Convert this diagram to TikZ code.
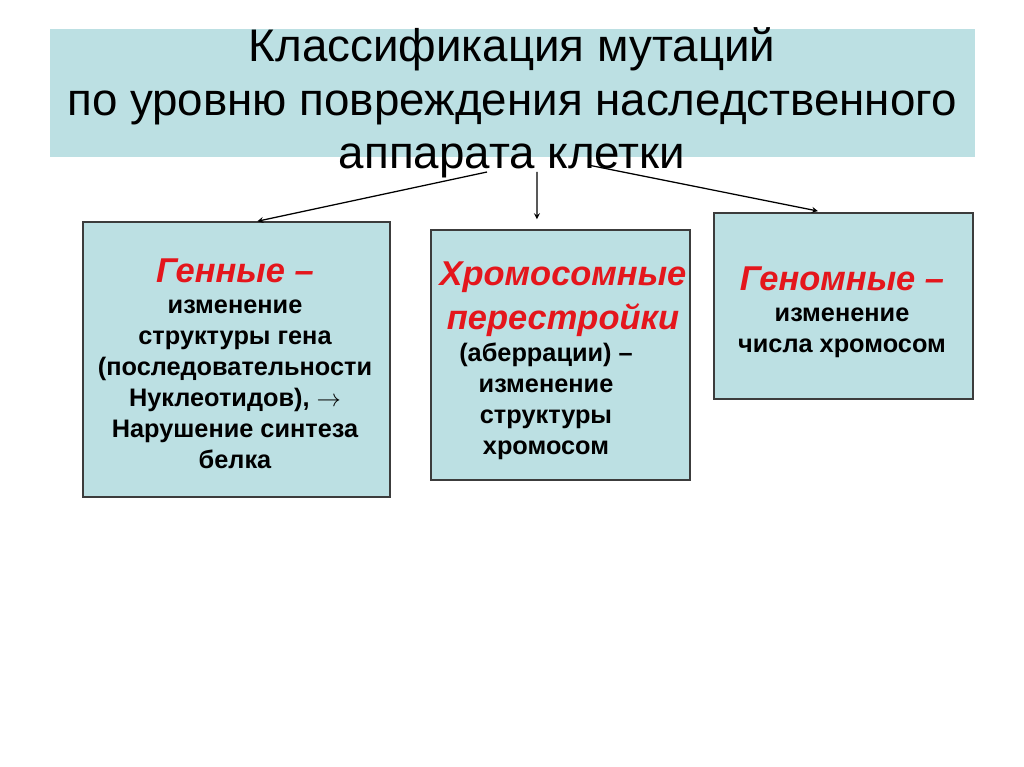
\documentclass[tikz,border=0pt]{standalone}
\usepackage{fontspec}
\setmainfont{Liberation Sans}
\definecolor{nen}{RGB}{188,224,227}
\definecolor{vien}{RGB}{60,60,60}
\definecolor{do}{RGB}{228,22,28}
\newcommand{\tde}[1]{{\color{do}\itshape\fontsize{24.5}{29}\selectfont #1}}
\tikzset{every picture/.style={line width=0.75pt}}
\tikzset{
	khung/.style={draw=vien,fill=nen,line width=1pt,inner sep=0pt},
	chu/.style={align=center,font=\bfseries\fontsize{18}{22}\selectfont},
	muiten/.style={->,line width=0.9pt}
}
\begin{document}
\begin{tikzpicture}[>=stealth,x=0.025cm,y=-0.025cm]
	\useasboundingbox (0,0) rectangle (1024,767);
	%Tieu de
	\node[fill=nen,minimum width=23.125cm,minimum height=3.2cm] (nen) at (512.5,93) {};
	\node[align=center,font=\fontsize{32.5}{38}\selectfont] (tieude) at (512,103) {Классификация мутаций\\по уровню повреждения наследственного\\аппарата клетки};
	%Khung 1
	\node[khung,minimum width=7.675cm,minimum height=6.875cm] (gen) at (236.5,359.5) {};
	\node[chu] (tgen) at (235,364) {\tde{Генные –}\\изменение\\структуры гена\\(последовательности\\Нуклеотидов), $\rightarrow$\\Нарушение синтеза\\белка};
	%Khung 2
	\node[khung,minimum width=6.475cm,minimum height=6.25cm] (chrom) at (560.5,355) {};
	\node[chu] (hchrom) at (563,299) {\tde{Хромосомные}\\[7pt]\tde{перестройки}};
	\node[chu] (tchrom) at (546,401) {(аберрации) –\\изменение\\структуры\\хромосом};
	%Khung 3
	\node[khung,minimum width=6.475cm,minimum height=4.65cm] (genom) at (843.5,306) {};
	\node[chu] (tgenom) at (842,312) {\tde{Геномные –}\\изменение\\числа хромосом};
	%Mui ten
	\coordinate (a1) at (487,172);
	\coordinate (a2) at (537,172);
	\coordinate (a3) at (588,165);
	\draw[muiten] (a1)--([xshift=0.52cm]gen.north);
	\draw[muiten] (a2)--([xshift=-0.59cm,yshift=0.25cm]chrom.north);
	\draw[muiten] (a3)--([xshift=-0.64cm,yshift=0.03cm]genom.north);
\end{tikzpicture}
\end{document}
